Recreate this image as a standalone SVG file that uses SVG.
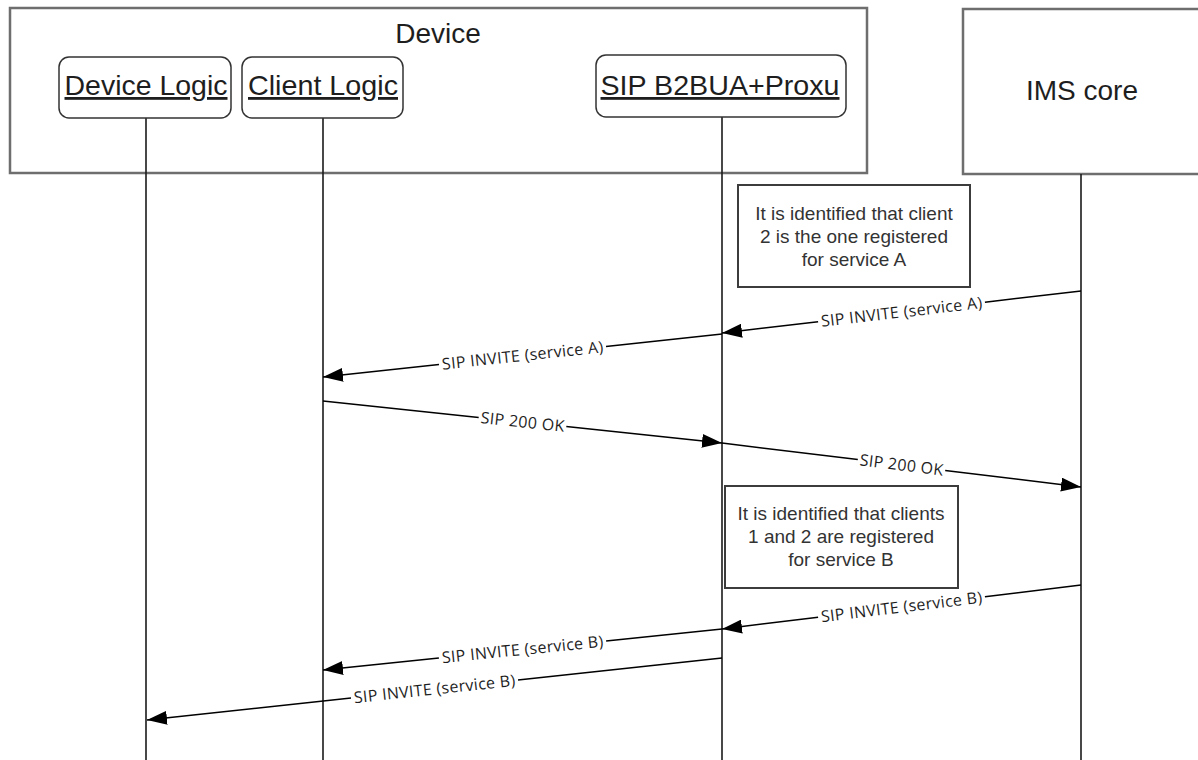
<svg xmlns="http://www.w3.org/2000/svg" width="1198" height="760" viewBox="0 0 1198 760">
<style>
.frame{fill:#fff;stroke:#6e6e6e;stroke-width:2.5}
.head{fill:#fff;stroke:#333;stroke-width:1.5}
.note{fill:#fff;stroke:#3c3c3c;stroke-width:2}
.life{stroke:#1a1a1a;stroke-width:1.6;fill:none}
.msg{stroke:#000;stroke-width:1.5;fill:none}
.big{font-family:"Liberation Sans",Arial,sans-serif;font-size:28px;fill:#1e1e1e;text-anchor:middle}
.ul{text-decoration:underline}
.nt{font-family:"Liberation Sans",Arial,sans-serif;font-size:19px;fill:#333;text-anchor:middle}
.lbl{font-family:"Open Sans","Noto Sans",sans-serif;font-size:16px;fill:#1e1e1e;text-anchor:middle}
</style>
<defs>
<marker id="ah" markerUnits="userSpaceOnUse" markerWidth="20" markerHeight="14" refX="20" refY="7" orient="auto">
<path d="M0,0 L20,7 L0,14 z" fill="#000"/>
</marker>
</defs>
<rect width="1198" height="760" fill="#fff"/>

<g id="device">
<rect class="frame" x="10" y="8" width="857" height="165"/>
<text class="big" x="438" y="43">Device</text>
</g>
<g id="ims-core">
<rect class="frame" x="963" y="9" width="260" height="165"/>
<text class="big" x="1082" y="100">IMS core</text>
</g>

<g id="lifelines">
<line class="life" x1="146" y1="118" x2="146" y2="760"/>
<line class="life" x1="323" y1="118" x2="323" y2="760"/>
<line class="life" x1="722" y1="117" x2="722" y2="760"/>
<line class="life" x1="1081" y1="174" x2="1081" y2="760"/>
</g>

<g id="device-logic">
<rect class="head" x="59" y="57" width="172" height="61" rx="10"/>
<text class="big ul" x="146" y="95" textLength="163" lengthAdjust="spacingAndGlyphs">Device Logic</text>
</g>
<g id="client-logic">
<rect class="head" x="242" y="57" width="161" height="61" rx="10"/>
<text class="big ul" x="323" y="95" textLength="150" lengthAdjust="spacingAndGlyphs">Client Logic</text>
</g>
<g id="sip-b2bua">
<rect class="head" x="596" y="55" width="250" height="62" rx="10"/>
<text class="big ul" x="720" y="95" textLength="239" lengthAdjust="spacingAndGlyphs">SIP B2BUA+Proxu</text>
</g>

<g id="note-a">
<rect class="note" x="738" y="185" width="232" height="102"/>
<text class="nt" x="854" y="220">It is identified that client</text>
<text class="nt" x="854" y="243">2 is the one registered</text>
<text class="nt" x="854" y="266">for service A</text>
</g>
<g id="note-b">
<rect class="note" x="725" y="486" width="233" height="102"/>
<text class="nt" x="841" y="520">It is identified that clients</text>
<text class="nt" x="841" y="543">1 and 2 are registered</text>
<text class="nt" x="841" y="566">for service B</text>
</g>

<g id="connectors">
<line class="msg" x1="1081" y1="291" x2="984.9" y2="302.2"/>
<line class="msg" x1="818.1" y1="321.8" x2="722" y2="333" marker-end="url(#ah)"/>
<text class="lbl" transform="translate(901.5,312) rotate(-6.67)" y="5.5" textLength="162" lengthAdjust="spacing">SIP INVITE (service A)</text>

<line class="msg" x1="722" y1="334" x2="606" y2="346.5"/>
<line class="msg" x1="439" y1="364.5" x2="323" y2="377" marker-end="url(#ah)"/>
<text class="lbl" transform="translate(522.5,355.5) rotate(-6.15)" y="5.5" textLength="162" lengthAdjust="spacing">SIP INVITE (service A)</text>

<line class="msg" x1="323" y1="401" x2="478.7" y2="417.4"/>
<line class="msg" x1="566.3" y1="426.6" x2="722" y2="443" marker-end="url(#ah)"/>
<text class="lbl" transform="translate(522.5,422) rotate(6.01)" y="5.5" textLength="84" lengthAdjust="spacing">SIP 200 OK</text>

<line class="msg" x1="722" y1="443" x2="857.8" y2="459.6"/>
<line class="msg" x1="945.2" y1="470.4" x2="1081" y2="487" marker-end="url(#ah)"/>
<text class="lbl" transform="translate(901.5,465) rotate(6.99)" y="5.5" textLength="84" lengthAdjust="spacing">SIP 200 OK</text>

<line class="msg" x1="1081" y1="585" x2="984.9" y2="596.8"/>
<line class="msg" x1="818.1" y1="617.2" x2="722" y2="629" marker-end="url(#ah)"/>
<text class="lbl" transform="translate(901.5,607) rotate(-6.99)" y="5.5" textLength="162" lengthAdjust="spacing">SIP INVITE (service B)</text>

<line class="msg" x1="722" y1="629" x2="606.1" y2="640.9"/>
<line class="msg" x1="438.9" y1="658.1" x2="323" y2="670" marker-end="url(#ah)"/>
<text class="lbl" transform="translate(522.5,649.5) rotate(-5.87)" y="5.5" textLength="162" lengthAdjust="spacing">SIP INVITE (service B)</text>

<line class="msg" x1="722" y1="658" x2="518" y2="680"/>
<line class="msg" x1="351" y1="698" x2="147" y2="720" marker-end="url(#ah)"/>
<text class="lbl" transform="translate(434.5,689) rotate(-6.15)" y="5.5" textLength="162" lengthAdjust="spacing">SIP INVITE (service B)</text>
</g>
</svg>
